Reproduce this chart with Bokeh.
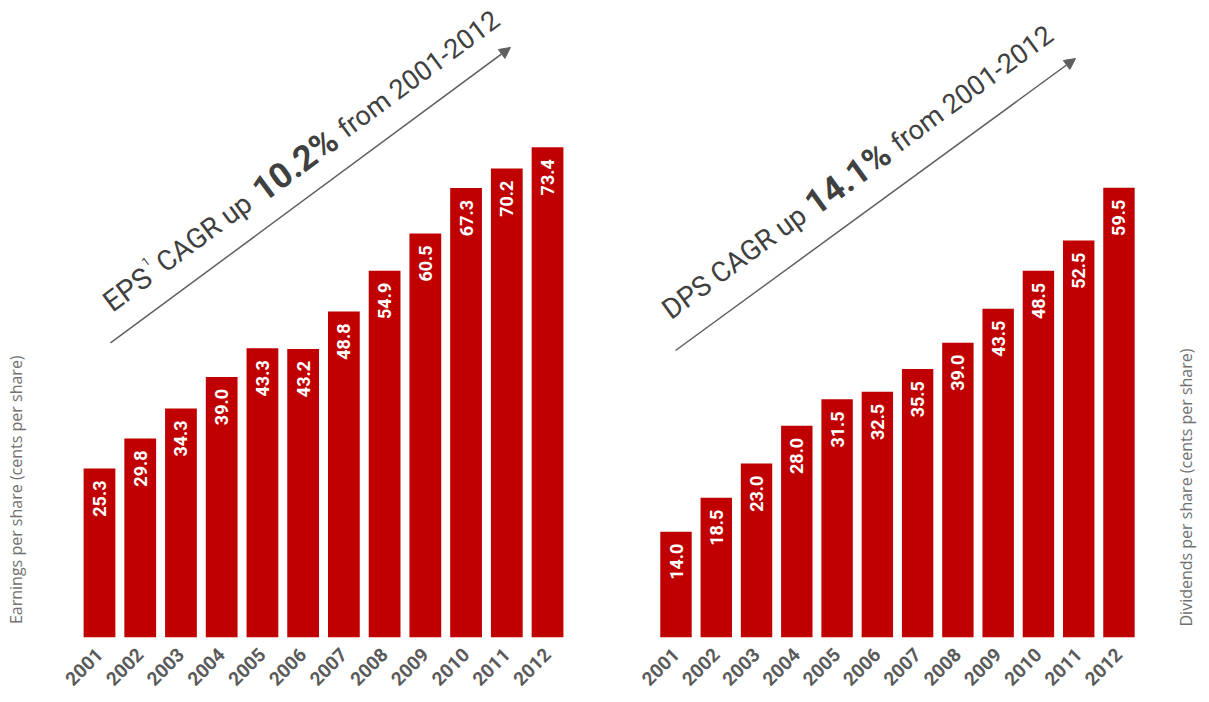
import math
from bokeh.plotting import figure
from bokeh.models import Range1d, FixedTicker, ColumnDataSource, Arrow, NormalHead
from bokeh.layouts import row
from bokeh.core.properties import value
from bokeh.embed import file_html
from bokeh.resources import INLINE

# ---------------- data ----------------
years = ["2001", "2002", "2003", "2004", "2005", "2006",
         "2007", "2008", "2009", "2010", "2011", "2012"]
eps = [25.3, 29.8, 34.3, 39.0, 43.3, 43.2, 48.8, 54.9, 60.5, 67.3, 70.2, 73.4]
dps = [14.0, 18.5, 23.0, 28.0, 31.5, 32.5, 35.5, 39.0, 43.5, 48.5, 52.5, 59.5]
eps_axis_label = "Earnings per share (cents per share)"
dps_axis_label = "Dividends per share (cents per share)"
eps_cagr = "10.2%"
dps_cagr = "14.1%"
period = "from 2001-2012"

RED = "#C00000"
GREY = "#404040"
TICK_GREY = "#5a5a5a"
LABEL_GREY = "#707070"


def make_panel(vals, width, frame_h, first_px, pitch, unit_px,
               ylab, ylab_px, arrow_a, arrow_b, p0, parts):
    x0 = -first_px / pitch
    x1 = x0 + width / pitch
    y1 = frame_h / unit_px

    def to_data(px, py):
        return x0 + px / pitch, (frame_h - py) / unit_px

    p = figure(width=width, height=702, output_backend="svg",
               toolbar_location=None, x_range=Range1d(x0, x1),
               y_range=Range1d(0, y1), y_axis_location=None,
               min_border_left=0, min_border_right=0, min_border_top=0,
               min_border_bottom=702 - frame_h)
    p.outline_line_color = None
    p.grid.grid_line_color = None
    p.background_fill_color = "white"
    p.border_fill_color = "white"

    xs = list(range(len(vals)))
    src = ColumnDataSource(dict(x=xs, v=vals, lbl=["%.1f" % v for v in vals]))
    p.vbar(x="x", top="v", width=0.78, source=src, fill_color=RED,
           line_color=None)
    p.text(x="x", y="v", text="lbl", source=src, angle=math.pi / 2,
           text_align="right", text_baseline="middle", y_offset=12,
           text_color="white", text_font=value("Roboto"),
           text_font_style="bold", text_font_size="18px")

    ax = p.xaxis[0]
    ax.ticker = FixedTicker(ticks=xs)
    ax.major_label_overrides = {i: y for i, y in enumerate(years)}
    ax.axis_line_color = None
    ax.major_tick_line_color = None
    ax.minor_tick_line_color = None
    ax.major_label_orientation = math.pi / 4
    ax.major_label_standoff = 8
    ax.major_label_text_font = "Roboto"
    ax.major_label_text_font_style = "bold"
    ax.major_label_text_font_size = "19px"
    ax.major_label_text_color = TICK_GREY

    # axis title
    lx, ly = to_data(*ylab_px)
    p.text(x=[lx], y=[ly], text=[ylab], angle=math.pi / 2,
           text_align="center", text_baseline="middle",
           text_color=LABEL_GREY, text_font=value("Open Sans"),
           text_font_size="16px")

    # trend arrow
    ax_, ay_ = to_data(*arrow_a)
    bx_, by_ = to_data(*arrow_b)
    p.add_layout(Arrow(x_start=ax_, y_start=ay_, x_end=bx_, y_end=by_,
                       line_color="#5f5f5f", line_width=1.5,
                       end=NormalHead(size=11, fill_color="#5f5f5f",
                                      line_color="#5f5f5f")))

    theta = math.atan2(arrow_a[1] - arrow_b[1], arrow_b[0] - arrow_a[0])
    ux, uy = math.cos(theta), -math.sin(theta)
    nx, ny = -math.sin(theta), -math.cos(theta)
    for txt, d, r, size, style in parts:
        px = p0[0] + d * ux + r * nx
        py = p0[1] + d * uy + r * ny
        tx, ty = to_data(px, py)
        p.text(x=[tx], y=[ty], text=[txt], angle=theta,
               text_align="left", text_baseline="alphabetic",
               text_color=GREY, text_font=value("Roboto"),
               text_font_style=style, text_font_size=size)
    return p


left = make_panel(
    eps, 604, 638, 99, 40.73, 6.69, eps_axis_label, (15, 490),
    (110, 343), (510, 47), (106, 305),
    [("EPS", 0, 0, "29px", "normal"),
     ("1", 54, 12, "12px", "normal"),
     ("CAGR up", 66, 0, "28px", "normal"),
     (eps_cagr, 187, 0, "35px", "bold"),
     (period, 292, 0, "27px", "normal")])

right = make_panel(
    dps, 605, 637, 71.5, 40.27, 7.56, dps_axis_label, (581, 487),
    (71, 350), (471, 58), (61, 312),
    [("DPS CAGR up", 0, 0, "28px", "normal"),
     (dps_cagr, 178, 0, "35px", "bold"),
     (period, 283, 0, "27px", "normal")])

layout = row(left, right)
open("out.html", "w").write(file_html(layout, INLINE))
